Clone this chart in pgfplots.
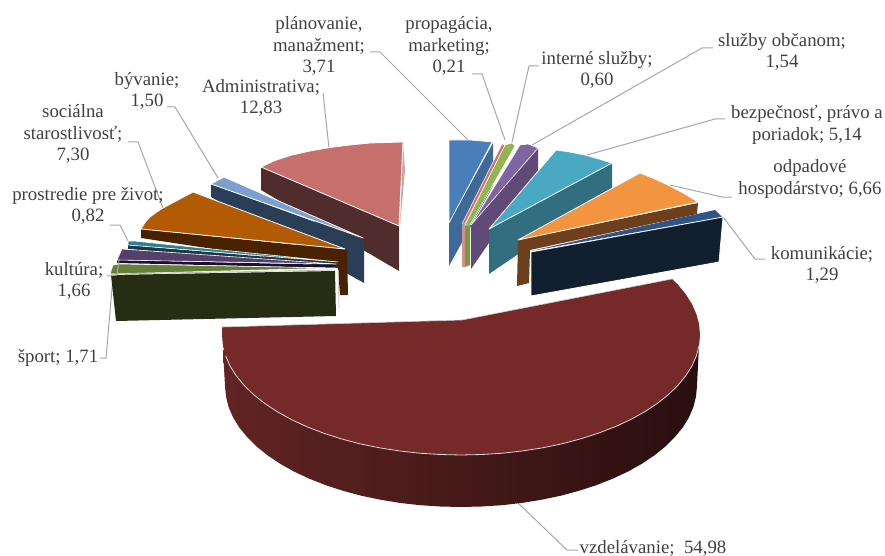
\documentclass[border=0pt]{standalone}
\usepackage{pgfplots}
\pgfplotsset{compat=1.18}
\usepackage{fontspec}
\setmainfont{Liberation Serif}
\definecolor{txt}{HTML}{404040}
\definecolor{lead}{HTML}{A6A6A6}
\definecolor{CCA5A5}{HTML}{CCA5A5}
\definecolor{ADSIDE}{HTML}{512C2C}
\definecolor{ADTOP}{HTML}{C76F6D}
\definecolor{BYSIDE}{HTML}{2A3E57}
\definecolor{BYTOP}{HTML}{7BA0CF}
\definecolor{SOSIDE}{HTML}{4A2200}
\definecolor{SOTOP}{HTML}{B35A05}
\definecolor{PRSIDE}{HTML}{1B3A46}
\definecolor{PRTOP}{HTML}{2F7F93}
\definecolor{KUSIDE}{HTML}{1C1030}
\definecolor{KUTOP}{HTML}{55406B}
\definecolor{SPSIDE}{HTML}{272D12}
\definecolor{SPTOP}{HTML}{66803A}
\definecolor{PLSIDE}{HTML}{3D6A99}
\definecolor{PLTOP}{HTML}{4A7EBB}
\definecolor{PGSIDE}{HTML}{D98F8D}
\definecolor{PGTOP}{HTML}{D0706D}
\definecolor{INSIDE}{HTML}{7A9A40}
\definecolor{INTOP}{HTML}{93B44F}
\definecolor{SLSIDE}{HTML}{5F4A78}
\definecolor{SLTOP}{HTML}{8064A2}
\definecolor{BESIDE}{HTML}{316F80}
\definecolor{BETOP}{HTML}{4AA9C2}
\definecolor{ODSIDE}{HTML}{6E3F1C}
\definecolor{ODTOP}{HTML}{F39540}
\definecolor{KOSIDE}{HTML}{111F2E}
\definecolor{KOTOP}{HTML}{2F5485}
\definecolor{VZL}{HTML}{622424}
\definecolor{VZM}{HTML}{481B19}
\definecolor{VZR}{HTML}{2A0E0E}
\definecolor{VZTOP}{HTML}{752929}
\newcommand{\lab}[4]{\node[align=center,text=txt,inner sep=0pt,font=\fontsize{18.8}{21.7}\selectfont] at (axis cs:#1,#2) {#3};}
\begin{document}
\begin{tikzpicture}
\begin{axis}[
  at={(0pt,0pt)}, anchor=south west,
  scale only axis, width=885pt, height=556pt,
  xmin=0, xmax=885, ymin=0, ymax=556, y dir=reverse,
  hide axis, clip=false, no markers,
  every axis plot/.append style={line join=round},
]
% leader lines
\addplot[lead,line width=1pt] coordinates {(370,52)(380,52)(470,142)};
\addplot[lead,line width=1pt] coordinates {(472,74)(482,74)(505,140)};
\addplot[lead,line width=1pt] coordinates {(539,66)(529,66)(512,142)};
\addplot[lead,line width=1pt] coordinates {(713,48)(702,48)(532,145)};
\addplot[lead,line width=1pt] coordinates {(725,119)(715,119)(587,155)};
\addplot[lead,line width=1pt] coordinates {(732,197)(722,197)(670,185)};
\addplot[lead,line width=1pt] coordinates {(765,259)(755,259)(723,217)};
\addplot[lead,line width=1pt] coordinates {(578,550)(567,550)(518,503)};
\addplot[lead,line width=1pt] coordinates {(100,358)(106,358)(113,277)};
\addplot[lead,line width=1pt] coordinates {(128,142)(138,142)(163,208)};
\addplot[lead,line width=1pt] coordinates {(167,107)(175,107)(218,178)};
\addplot[lead,line width=1pt] coordinates {(323,93)(329,148)};
\addplot[lead,line width=1pt] coordinates {(110,225)(120,225)(128,241)};
% Administrativa
\addplot[fill=CCA5A5,draw=none] coordinates {(403,142)(405,170)(400,226)} -- cycle;
\addplot[fill=ADSIDE,draw=none] coordinates {(261,167)(399,226)(399,271)(261,190)} -- cycle;
\addplot[fill=ADTOP,draw=white,line width=.8pt] coordinates {(261,167)(275,160.5)(290,155.5)(310,151)(330,147.5)(350,145)(370,143)(403,142)(399,226)} -- cycle;
% byvanie
\addplot[fill=BYSIDE,draw=none] coordinates {(211,184)(364,240)(364,283)(211,197)} -- cycle;
\addplot[fill=BYTOP,draw=white,line width=.8pt] coordinates {(211,184)(224,177)(363,238)} -- cycle;
% socialna
\addplot[fill=SOSIDE,draw=none] coordinates {(141,229)(347,250)(348,295)(340,295)(338,268)(141,238)} -- cycle;
\addplot[fill=SOTOP,draw=white,line width=.8pt] coordinates {(141,229)(145,222.5)(150,217)(156,212.5)(163,208)(178,200)(193,192)(345,249)} -- cycle;
% prostredie
\addplot[fill=PRSIDE,draw=none] coordinates {(128,245)(338,263)(338,267)(128,249)} -- cycle;
\addplot[fill=PRTOP,draw=white,line width=.6pt] coordinates {(128,241)(134,241)(338,262)(128,245)} -- cycle;
% kultura
\addplot[fill=KUSIDE,draw=none] coordinates {(117,260)(336,265)(336,268)(117,263)} -- cycle;
\addplot[fill=KUTOP,draw=white,line width=.6pt] coordinates {(122,249)(336,264)(117,260)} -- cycle;
% sport
\addplot[fill=SPTOP,draw=white,line width=.6pt] coordinates {(113,265)(120,264)(336,268)(110,274)} -- cycle;
\addplot[lead!50!white,line width=1pt] coordinates {(338,270)(339,308)};
\addplot[fill=SPSIDE,draw=none] coordinates {(111,275)(335,271)(336,316)(116,321)} -- cycle;
\addplot[white!75!black,line width=.8pt] coordinates {(111,274)(335,270)};
% planovanie
\addplot[fill=PLSIDE,draw=none] coordinates {(493,143)(493,186)(449,266)(449,223)} -- cycle;
\addplot[fill=PLTOP,draw=white,line width=.6pt] coordinates {(449,140)(470,140)(492,142)(449,223)} -- cycle;
% propagacia
\addplot[fill=PGSIDE,draw=none] coordinates {(462,225)(466,225)(466,267)(462,267)} -- cycle;
\addplot[fill=PGTOP,draw=white,line width=.5pt] coordinates {(502,144)(505,145)(465,224)(462,224)} -- cycle;
% interne
\addplot[fill=INSIDE,draw=none] coordinates {(465,226)(470,226)(470,265)(465,267)} -- cycle;
\addplot[fill=INTOP,draw=white,line width=.5pt] coordinates {(505,145)(512,143)(515,146)(470,225)(465,225)} -- cycle;
% sluzby
\addplot[fill=SLSIDE,draw=none] coordinates {(538,148)(538,172)(471,269)(471,225)} -- cycle;
\addplot[fill=SLTOP,draw=white,line width=.6pt] coordinates {(520,145)(528,144)(538,148)(471,225)} -- cycle;
% bezpecnost
\addplot[fill=BESIDE,draw=none] coordinates {(612,163)(612,190)(489,274)(489,229)} -- cycle;
\addplot[fill=BETOP,draw=white,line width=.8pt] coordinates {(489,229)(556,150)(570,152)(585,155)(599,159)(612,163)} -- cycle;
% odpadove
\addplot[fill=ODSIDE,draw=none] coordinates {(518,240)(698,203)(697,214)(530,250)(529,283)(517,286)} -- cycle;
\addplot[fill=ODTOP,draw=white,line width=.8pt] coordinates {(518,240)(640,173)(655,179)(670,186)(685,194)(698,202)} -- cycle;
% komunikacie
\addplot[fill=KOTOP,draw=none] coordinates {(531,251)(715,210)(722,217)} -- cycle;
\addplot[fill=KOSIDE,draw=white,line width=.8pt] coordinates {(531,252)(723,217)(719,262)(531,296)} -- cycle;
% vzdelavanie side
\addplot[left color=VZL,middle color=VZM,right color=VZR,draw=none] coordinates {
(699,345)(697,386)(696,396.5)(693.4,407)(689,417.3)(682.8,427.4)(674.8,437.1)(665.4,446.5)(654.3,455.4)(641.8,463.8)(627.9,471.6)(612.7,478.7)(596.5,485.1)(579,490.8)(560.8,495.7)(541.7,499.7)(522.1,502.9)(502,505.2)(481.5,506.5)(461,507)(440.5,506.5)(420,505.2)(399.9,502.9)(380.3,499.7)(361.2,495.7)(343,490.8)(325.5,485.1)(309.3,478.7)(294.1,471.6)(280.2,463.8)(267.7,455.4)(256.6,446.5)(247.2,437.1)(239.2,427.4)(233,417.3)(228.6,407)(226,396.5)(225,386)(223,350)
} -- cycle;
% vzdelavanie top
\addplot[fill=VZTOP,draw=none] coordinates {
(462,320)(672,279)(677.6,284.3)(685.6,294)(691.9,303.9)(696.4,314.2)(699.1,324.5)(700,335)(699.1,345.5)(696.4,355.8)(691.9,366.1)(685.6,376)(677.6,385.7)(668,395)(656.8,403.8)(644.1,412.1)(630,419.9)(614.6,426.9)(598.1,433.3)(580.5,438.9)(562.1,443.8)(542.7,447.8)(522.9,450.9)(502.5,453.2)(481.8,454.5)(461,455)(440.2,454.5)(419.5,453.2)(399.1,450.9)(379.3,447.8)(359.9,443.8)(341.5,438.9)(323.9,433.3)(307.4,426.9)(292,419.9)(277.9,412.1)(265.2,403.8)(254,395)(244.4,385.7)(236.4,376)(230.1,366.1)(225.6,355.8)(222.9,345.5)(222,335)(222,327)
} -- cycle;
\addplot[white!85!black,line width=.8pt] coordinates {
(699.1,345.5)(696.4,355.8)(691.9,366.1)(685.6,376)(677.6,385.7)(668,395)(656.8,403.8)(644.1,412.1)(630,419.9)(614.6,426.9)(598.1,433.3)(580.5,438.9)(562.1,443.8)(542.7,447.8)(522.9,450.9)(502.5,453.2)(481.8,454.5)(461,455)(440.2,454.5)(419.5,453.2)(399.1,450.9)(379.3,447.8)(359.9,443.8)(341.5,438.9)(323.9,433.3)(307.4,426.9)(292,419.9)(277.9,412.1)(265.2,403.8)(254,395)(244.4,385.7)(236.4,376)(230.1,366.1)(225.6,355.8)
};
\addplot[white!80!black,line width=.6pt] coordinates {(222,327)(462,320)(672,279)};
% labels
\lab{319}{46}{plánovanie,\\manažment;\\3,71}{}
\lab{449}{46}{propagácia,\\marketing;\\0,21}{}
\lab{597}{70}{interné služby;\\0,60}{}
\lab{782}{52}{služby občanom;\\1,54}{}
\lab{807}{125}{bezpečnosť, právo a\\poriadok; 5,14}{}
\lab{810}{179}{odpadové\\hospodárstvo; 6,66}{}
\lab{822}{265}{komunikácie;\\1,29}{}
\lab{653}{548}{vzdelávanie;\ \ 54,98}{}
\lab{261}{98}{Administrativa;\\12,83}{}
\lab{147}{91}{bývanie;\\1,50}{}
\lab{73}{134}{sociálna\\starostlivosť;\\7,30}{}
\lab{88}{206}{prostredie pre život;\\0,82}{}
\lab{74}{281}{kultúra;\\1,66}{}
\lab{58}{358}{šport; 1,71}{}
\addplot[lead,line width=1pt] coordinates {(107,276)(117,275)(119,260)};
\end{axis}
\path (0pt,0pt) rectangle (885pt,556pt);
\end{tikzpicture}
\end{document}
